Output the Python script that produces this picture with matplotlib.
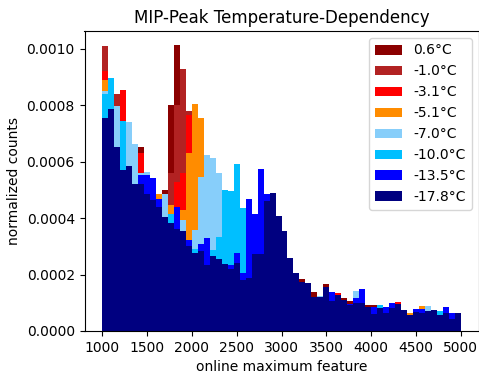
import numpy as np
import matplotlib
matplotlib.use("Agg")
import matplotlib.pyplot as plt

# bin edges: 60 bins between 1000 and 5000
bin_lo, bin_hi, n_bins = 1000, 5000, 60

labels = ["0.6°C", "-1.0°C", "-3.1°C", "-5.1°C", "-7.0°C", "-10.0°C", "-13.5°C", "-17.8°C"]
colors = ["darkred", "firebrick", "red", "darkorange", "lightskyblue", "deepskyblue", "blue", "navy"]

# normalized counts (x1e-4) per bin
t_p06 = [9.80, 8.50, 8.00, 8.00, 6.80, 6.00, 6.50, 5.30, 5.00, 4.50,
         4.99, 7.99, 10.12, 9.00, 7.50, 7.50, 7.00, 5.60, 5.40, 5.00,
         4.30, 4.10, 3.80, 3.40, 3.10, 2.80, 2.60, 2.60, 2.80, 2.90,
         2.80, 2.20, 1.70, 1.83, 1.35, 1.37, 0.98, 1.66, 0.92, 1.20,
         1.16, 1.07, 0.86, 0.86, 0.92, 0.92, 0.66, 0.52, 0.70, 0.92,
         0.60, 0.46, 0.54, 0.58, 0.60, 0.60, 0.42, 0.52, 0.32, 0.52]
t_m10 = [10.08, 8.80, 8.41, 8.30, 7.00, 6.20, 6.20, 5.40, 5.10, 4.60,
         4.50, 5.58, 7.99, 9.29, 7.79, 7.70, 7.20, 5.70, 5.50, 5.10,
         4.40, 4.20, 3.90, 3.50, 3.20, 2.90, 2.70, 2.70, 2.90, 3.00,
         2.90, 2.25, 1.75, 1.50, 1.40, 1.00, 1.00, 1.25, 0.95, 1.25,
         0.92, 0.80, 0.88, 0.88, 0.76, 0.50, 0.68, 0.54, 0.72, 0.95,
         0.62, 0.48, 0.56, 0.60, 0.62, 0.62, 0.44, 0.54, 0.34, 0.54]
t_m31 = [9.20, 8.70, 7.80, 8.55, 7.10, 6.30, 6.31, 5.40, 5.20, 4.60,
         4.60, 4.30, 5.28, 5.58, 7.64, 7.80, 7.30, 5.80, 5.60, 5.20,
         4.50, 4.30, 4.00, 3.60, 3.30, 3.00, 2.80, 2.80, 3.00, 3.10,
         3.00, 2.30, 1.80, 1.55, 1.45, 1.05, 1.05, 1.30, 0.98, 1.33,
         0.95, 0.82, 0.90, 0.90, 0.78, 0.52, 0.70, 0.56, 0.74, 1.02,
         0.64, 0.50, 0.58, 0.62, 0.64, 0.64, 0.46, 0.56, 0.36, 0.56]
t_m51 = [8.90, 8.50, 7.80, 7.10, 7.00, 6.20, 5.40, 5.40, 5.20, 4.85,
         4.70, 4.45, 4.10, 4.30, 6.29, 8.05, 7.56, 5.90, 5.80, 5.30,
         4.60, 4.40, 4.10, 3.70, 3.40, 3.10, 2.90, 2.90, 3.10, 3.20,
         3.10, 2.35, 1.85, 1.60, 1.50, 1.10, 1.10, 1.35, 1.00, 1.15,
         1.00, 0.85, 0.92, 0.92, 0.80, 0.55, 0.72, 0.58, 0.76, 0.85,
         0.66, 0.64, 0.60, 0.88, 0.66, 0.66, 0.48, 0.58, 0.38, 0.58]
t_m70 = [8.49, 8.60, 7.96, 7.20, 7.40, 6.64, 5.60, 5.62, 5.30, 4.50,
         4.85, 4.05, 4.20, 3.93, 3.10, 3.57, 5.46, 6.23, 6.14, 5.61,
         4.70, 4.50, 4.20, 3.80, 3.50, 3.20, 3.00, 3.00, 3.20, 3.30,
         3.20, 2.40, 1.90, 1.65, 1.55, 1.12, 1.24, 1.40, 1.02, 1.18,
         1.02, 0.88, 1.41, 0.95, 0.82, 0.56, 0.75, 0.60, 0.78, 0.88,
         0.68, 0.50, 0.63, 0.60, 0.88, 0.68, 0.50, 0.60, 0.40, 0.60]
t_m100 = [8.38, 8.97, 6.40, 7.43, 5.70, 5.10, 5.40, 5.30, 5.00, 4.50,
          3.95, 4.16, 4.00, 3.45, 3.10, 2.89, 2.90, 3.00, 2.87, 3.33,
          5.01, 4.97, 5.93, 4.34, 3.60, 3.30, 3.10, 3.20, 3.40, 3.50,
          3.30, 2.45, 1.95, 1.68, 1.60, 1.15, 1.15, 1.45, 1.05, 1.20,
          1.05, 0.90, 0.95, 0.98, 0.84, 0.58, 0.92, 0.62, 0.80, 0.90,
          0.70, 0.52, 0.65, 0.63, 0.70, 0.70, 0.71, 0.62, 0.42, 0.62]
t_m135 = [7.40, 7.70, 6.40, 5.60, 5.86, 5.10, 5.54, 5.53, 5.42, 4.67,
          3.95, 3.70, 4.40, 3.45, 3.22, 2.70, 3.08, 3.29, 2.60, 2.50,
          2.30, 2.33, 2.77, 2.04, 4.66, 4.14, 5.73, 4.87, 4.50, 3.95,
          3.45, 2.50, 2.00, 1.70, 1.65, 1.18, 1.18, 1.50, 1.39, 1.25,
          1.06, 0.97, 1.16, 1.49, 0.84, 0.86, 0.78, 0.86, 0.98, 0.94,
          0.70, 0.53, 0.77, 0.77, 0.70, 0.72, 0.53, 0.86, 0.65, 0.63]
t_m178 = [7.56, 7.85, 6.51, 5.72, 5.84, 5.20, 5.20, 4.87, 4.63, 4.40,
          4.04, 3.81, 3.61, 3.53, 3.00, 2.77, 2.85, 2.33, 2.65, 2.54,
          2.36, 2.20, 2.42, 1.82, 1.86, 2.71, 2.71, 4.59, 4.89, 4.08,
          3.55, 2.57, 2.04, 1.74, 1.69, 1.21, 1.21, 1.55, 1.07, 1.27,
          1.10, 0.92, 0.98, 1.00, 0.86, 0.60, 0.80, 0.65, 0.83, 0.96,
          0.73, 0.55, 0.67, 0.65, 0.72, 0.74, 0.55, 0.65, 0.44, 0.65]

series = [t_p06, t_m10, t_m31, t_m51, t_m70, t_m100, t_m135, t_m178]

edges = np.linspace(bin_lo, bin_hi, n_bins + 1)
centers = 0.5 * (edges[:-1] + edges[1:])

fig = plt.figure(figsize=(4.79, 3.73), dpi=100)
ax = fig.add_axes([84.5 / 479, 1 - 331 / 373, (478.5 - 84.5) / 479, 300 / 373])

for vals, col, lab in zip(series, colors, labels):
    ax.hist(centers, bins=edges, weights=np.array(vals) * 1e-4,
            histtype="stepfilled", color=col, label=lab)

ax.set_title("MIP-Peak Temperature-Dependency", fontsize=12)
ax.set_xlabel("online maximum feature", fontsize=10)
ax.set_ylabel("normalized counts", fontsize=10)
ax.set_xticks(np.arange(1000, 5001, 500))
ax.legend(loc="upper right", fontsize=10)

fig.savefig("out.png", dpi=100)
